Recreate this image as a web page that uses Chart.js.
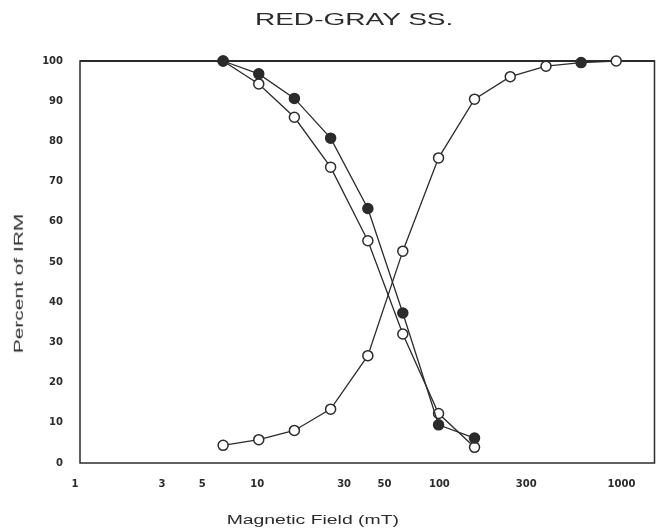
<!DOCTYPE html>
<html>
<head>
<meta charset="utf-8">
<script src="https://cdn.jsdelivr.net/npm/chart.js@4.4.1/dist/chart.umd.min.js"></script>
<style>
  html, body { margin: 0; padding: 0; background: #fff; }
  #wrap { position: relative; width: 661px; height: 530px; overflow: hidden; }
  canvas { position: absolute; left: 0; top: 0; }
  .lbl { position: absolute; white-space: nowrap; color: #2b2b2b;
         font-family: "Liberation Sans", Arial, sans-serif; line-height: 1; }
</style>
</head>
<body>
<div id="wrap">
  <canvas id="c" width="661" height="530"></canvas>
  <div class="lbl" id="title" style="font-size:17px;">RED-GRAY SS.</div>
  <div class="lbl" id="xtitle" style="font-size:13px;">Magnetic Field (mT)</div>
  <div class="lbl" id="ytitle" style="font-size:13px;">Percent of IRM</div>
</div>
<script>
// ---- data ----
const fieldsMT   = [6.5, 10.2, 16, 25.3, 40.5, 63, 99, 156, 245, 385, 600, 935];
const irmAcquire = [4.4, 5.8, 8.1, 13.4, 26.7, 52.7, 75.9, 90.5, 96.1, 98.7, 99.6, 100];
const demagFieldsMT = [6.5, 10.2, 16, 25.3, 40.5, 63, 99, 156];
const demagFilled   = [100, 96.8, 90.7, 80.8, 63.3, 37.3, 9.5, 6.2];
const demagOpen     = [100, 94.3, 86.0, 73.6, 55.3, 32.1, 12.3, 3.9];
const xTickValues = [1, 3, 5, 10, 30, 50, 100, 300, 1000];
const yTickValues = [0, 10, 20, 30, 40, 50, 60, 70, 80, 90, 100];

const ink = '#2b2b2b';
const toXY = (xs, ys) => xs.map((x, i) => ({ x: x, y: ys[i] }));

const framePlugin = {
  id: 'frame',
  beforeDatasetsDraw(chart) {
    const a = chart.chartArea, ctx = chart.ctx;
    ctx.save();
    ctx.strokeStyle = ink;
    ctx.lineWidth = 1.5;
    ctx.strokeRect(a.left, a.top, a.right - a.left, a.bottom - a.top);
    ctx.lineWidth = 2.2;
    ctx.beginPath(); ctx.moveTo(a.left, a.top); ctx.lineTo(a.right, a.top); ctx.stroke();
    ctx.restore();
  }
};

const common = { showLine: true, borderColor: ink, borderWidth: 1.3, pointRadius: 5,
                 pointHoverRadius: 5, pointBorderColor: ink, pointBorderWidth: 1.5, clip: false, tension: 0 };

new Chart(document.getElementById('c'), {
  type: 'scatter',
  data: {
    datasets: [
      Object.assign({ label: 'AF demag (filled)', data: toXY(demagFieldsMT, demagFilled),
                      pointBackgroundColor: ink }, common),
      Object.assign({ label: 'AF demag (open)', data: toXY(demagFieldsMT, demagOpen),
                      pointBackgroundColor: '#fff' }, common),
      Object.assign({ label: 'IRM acquisition', data: toXY(fieldsMT, irmAcquire),
                      pointBackgroundColor: fieldsMT.map((v, i) => i === 10 ? ink : '#fff') }, common)
    ]
  },
  options: {
    responsive: false,
    animation: false,
    devicePixelRatio: 1,
    layout: { padding: { left: 0, right: 3, top: 61, bottom: 0 } },
    plugins: { legend: { display: false }, title: { display: false }, tooltip: { enabled: false } },
    scales: {
      x: {
        type: 'logarithmic',
        min: 1.065, max: 1517,
        grid: { display: false, drawTicks: false },
        border: { display: false },
        afterFit: s => { s.height = 67; },
        afterBuildTicks: s => { s.ticks = xTickValues.map(v => ({ value: v })); },
        ticks: {
          autoSkip: false, maxRotation: 0, padding: 15, color: ink,
          font: { family: 'DejaVu Sans', size: 10, weight: 'bold' },
          callback: v => String(v)
        }
      },
      y: {
        type: 'linear',
        min: 0, max: 100,
        grid: { display: false, drawTicks: false },
        border: { display: false },
        afterFit: s => { s.width = 80; },
        afterBuildTicks: s => { s.ticks = yTickValues.map(v => ({ value: v })); },
        ticks: {
          autoSkip: false, padding: 17, color: ink,
          font: { family: 'DejaVu Sans', size: 10, weight: 'bold' },
          callback: v => String(v)
        }
      }
    }
  },
  plugins: [framePlugin]
});

// place HTML titles, stretched horizontally like the wide original lettering
function place(id, cx, cy, targetLen, rotate) {
  const el = document.getElementById(id);
  const w = el.offsetWidth, h = el.offsetHeight;
  el.style.left = (cx - w / 2) + 'px';
  el.style.top = (cy - h / 2) + 'px';
  const s = targetLen / w;
  el.style.transformOrigin = '50% 50%';
  el.style.transform = (rotate ? 'rotate(-90deg) ' : '') + 'scaleX(' + s.toFixed(3) + ')';
}
place('title', 354, 19, 198, false);
place('xtitle', 313, 519, 173, false);
place('ytitle', 18, 283, 140, true);
</script>
</body>
</html>
